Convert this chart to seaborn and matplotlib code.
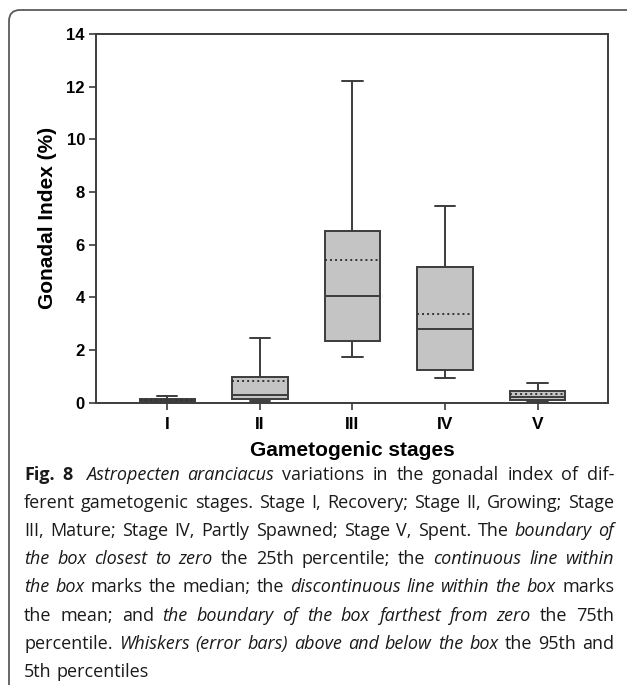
import matplotlib
matplotlib.use("Agg")
import numpy as np
import pandas as pd
import matplotlib.pyplot as plt
import seaborn as sns
from matplotlib.patches import FancyBboxPatch
from matplotlib.transforms import IdentityTransform

# ---------------- data ----------------
stages = ["I", "II", "III", "IV", "V"]
p5 = [0.01, 0.05, 1.72, 0.93, 0.03]
q1 = [0.02, 0.14, 2.33, 1.26, 0.10]
median = [0.06, 0.31, 4.06, 2.79, 0.23]
q3 = [0.14, 0.97, 6.52, 5.15, 0.43]
p95 = [0.27, 2.47, 12.22, 7.45, 0.76]
mean = [0.09, 0.84, 5.43, 3.36, 0.34]

yticks = [0, 2, 4, 6, 8, 10, 12, 14]
xlabel = "Gametogenic stages"
ylabel = "Gonadal Index (%)"

# caption lines: list of runs (text, style) ; b=bold, i=italic, r=regular
caption_lines = [
    [("Fig. 8", "b"), ("Astropecten aranciacus", "i"), ("variations in the gonadal index of dif-", "r")],
    [("ferent gametogenic stages. Stage I, Recovery; Stage II, Growing; Stage", "r")],
    [("III, Mature; Stage IV, Partly Spawned; Stage V, Spent. The", "r"), ("boundary of", "i")],
    [("the box closest to zero", "i"), ("the 25th percentile; the", "r"), ("continuous line within", "i")],
    [("the box", "i"), ("marks the median; the", "r"), ("discontinuous line within the box", "i"), ("marks", "r")],
    [("the mean; and", "r"), ("the boundary of the box farthest from zero", "i"), ("the 75th", "r")],
    [("percentile.", "r"), ("Whiskers (error bars) above and below the box", "i"), ("the 95th and", "r")],
    [("5th percentiles", "r")],
]

# ---------------- style ----------------
W, H = 627, 685
DPI = 100
sns.set_style("ticks")
plt.rcParams["font.family"] = ["Liberation Sans", "DejaVu Sans"]

edge = "#3c3c3c"
fill = "#c4c4c4"

fig = plt.figure(figsize=(W / DPI, H / DPI), dpi=DPI)
fig.patch.set_facecolor("white")

ax_l, ax_r, ax_t, ax_b = 96, 608, 34, 402.7
ax = fig.add_axes([ax_l / W, (H - ax_b) / H, (ax_r - ax_l) / W, (ax_b - ax_t) / H])

rows = []
for s, a, b, c, d, e in zip(stages, p5, q1, median, q3, p95):
    for v in (a, b, c, d, e):
        rows.append({"stage": s, "value": v})
df = pd.DataFrame(rows)

sns.boxplot(data=df, x="stage", y="value", order=stages, whis=(0, 100),
            width=0.6, color=fill, saturation=1, linecolor=edge,
            linewidth=1.4, fliersize=0, capwidths=0.22, ax=ax)

xs = np.arange(len(stages))
ax.hlines(mean, xs - 0.3, xs + 0.3, colors="#333333",
          linestyles=(0, (1, 1.6)), linewidth=1.4, zorder=5)

ax.set_xlim(-0.77, 4.76)
ax.set_ylim(0, 14)
ax.set_yticks(yticks)
ax.set_yticklabels([str(t) for t in yticks])
ax.set_xticks(xs)
ax.set_xticklabels(stages)
for sp in ax.spines.values():
    sp.set_visible(True)
    sp.set_color(edge)
    sp.set_linewidth(1.4)
ax.tick_params(direction="out", length=5, width=1.2, color=edge, pad=3)
ax.tick_params(axis="x", pad=5)
for lab in ax.get_yticklabels():
    lab.set_fontsize(12); lab.set_fontweight("bold"); lab.set_color("black")
for lab in ax.get_xticklabels():
    lab.set_fontsize(12.5); lab.set_fontweight("bold"); lab.set_color("black")
ax.set_xlabel(xlabel, fontsize=15, fontweight="bold", labelpad=7, color="black")
ax.set_ylabel(ylabel, fontsize=15, fontweight="bold", labelpad=7, color="black")
ax.grid(False)

# rounded frame
frame = FancyBboxPatch((9, -30), 700, H - 10 + 30, boxstyle="round,pad=0,rounding_size=11",
                       transform=IdentityTransform(), facecolor="none",
                       edgecolor="#5a5a5a", linewidth=1.3, clip_on=False)
fig.add_artist(frame)

# ---------------- caption (justified) ----------------
cap_font = ["Open Sans", "DejaVu Sans"]
fig.canvas.draw()
renderer = fig.canvas.get_renderer()


def props(style, size):
    return dict(fontfamily=cap_font, fontsize=size,
                fontstyle="italic" if style == "i" else "normal",
                fontweight="bold" if style == "b" else "normal")


def measure(s, style, size):
    t = fig.text(0, 0, s, transform=IdentityTransform(), **props(style, size))
    w = t.get_window_extent(renderer).width
    t.remove()
    return w


def words_of(line):
    out = []
    for i, (txt, st) in enumerate(line):
        parts = txt.split(" ")
        for j, p in enumerate(parts):
            gap = 1.0
            if i == 0 and st == "b" and j == len(parts) - 1:
                gap = 2.0
            out.append((p, st, gap))
    return out


x0, x1 = 24, 614
avail = x1 - x0
size = 13.0


def natural(line, size):
    ws = words_of(line)
    tot = 0
    for k, (w, st, g) in enumerate(ws):
        tot += measure(w, st, size)
        if k < len(ws) - 1:
            tot += g * (measure("x x", st, size) - measure("xx", st, size))
    return tot


mx = max(natural(l, size) for l in caption_lines[:-1])
if mx > avail * 0.995:
    size = size * avail * 0.995 / mx

base0 = 480
lead = 28.1
for li, line in enumerate(caption_lines):
    ws = words_of(line)
    widths = [measure(w, st, size) for w, st, g in ws]
    spaces = [g * (measure("x x", st, size) - measure("xx", st, size)) for w, st, g in ws]
    nat = sum(widths) + sum(spaces[:-1])
    ngaps = len(ws) - 1
    justify = li < len(caption_lines) - 1 and ngaps > 0
    extra = (avail - nat) / ngaps if justify else 0
    x = x0
    y = round(H - (base0 + li * lead))
    for k, (w, st, g) in enumerate(ws):
        fig.text(x, y, w, transform=IdentityTransform(), va="baseline", ha="left",
                 color="#1a1a1a", **props(st, size))
        x += widths[k]
        if k < len(ws) - 1:
            x += spaces[k] + extra

fig.savefig("out.png", dpi=DPI)
